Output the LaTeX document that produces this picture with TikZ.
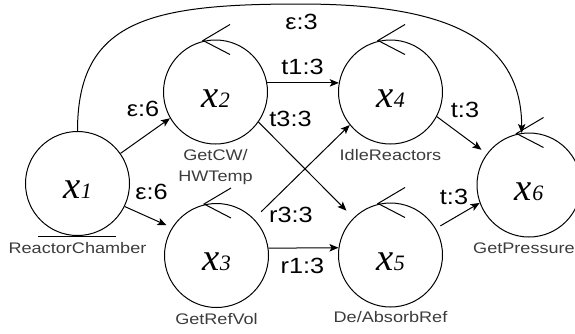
\documentclass[tikz,border=0pt]{standalone}
\usepackage{fontspec}
\usetikzlibrary{arrows.meta}
\newfontfamily\edgefont[FakeStretch=1.15]{Liberation Sans}
\newfontfamily\capfont[FakeStretch=1.18]{Liberation Sans}
\newfontfamily\varfont{Liberation Serif}
\definecolor{capgray}{RGB}{60,60,60}
\newcommand\vlab[1]{{\varfont\itshape\fontsize{29}{29}\selectfont x\kern0.5pt{\fontsize{16.5}{16.5}\selectfont #1}}}
\tikzset{
  state/.style={circle, draw, line width=0.75pt, minimum size=78pt, inner sep=0pt},
  conn/.style={line width=0.75pt, -{Stealth[length=6.8pt,width=5.6pt,inset=1.6pt]}},
  elab/.style={font=\edgefont\fontsize{16.5}{18}\selectfont, inner sep=0pt},
  captxt/.style={font=\capfont\fontsize{11.5}{13}\selectfont, text=capgray, inner sep=0pt, anchor=base},
  varname/.style={inner sep=0pt, anchor=base},
  loopmark/.style={line width=0.75pt}
}
\begin{document}
\begin{tikzpicture}[x=0.75pt,y=-0.75pt]
\useasboundingbox (0,0) rectangle (575,333);
\clip (0,0) rectangle (575,333);
% states
\node[state] (x1) at (77.5,183.5) {};
\node[state] (x2) at (215.5,92) {};
\node[state] (x3) at (216.5,255.5) {};
\node[state] (x4) at (390.5,92) {};
\node[state] (x5) at (390.5,255) {};
\node[state] (x6) at (529,185) {};
% variable names
\node[varname] (v1) at (77.5,198.5) {\vlab{1}};
\node[varname] (v2) at (215.5,107) {\vlab{2}};
\node[varname] (v3) at (216.5,270.5) {\vlab{3}};
\node[varname] (v4) at (390.5,107) {\vlab{4}};
\node[varname] (v5) at (390.5,270) {\vlab{5}};
\node[varname] (v6) at (529,200) {\vlab{6}};
% captions
\node[captxt] (c1) at (77.5,253) {ReactorChamber};
\node[captxt] (c2a) at (215.5,160) {GetCW/};
\node[captxt] (c2b) at (215.5,181) {HWTemp};
\node[captxt] (c3) at (216.5,324) {GetRefVol};
\node[captxt] (c4) at (390.5,160) {IdleReactors};
\node[captxt] (c5) at (390.5,322) {De/AbsorbRef};
\node[captxt] (c6) at (524,253) {GetPressure};
% self-loop markers
\foreach \n in {x2,x3,x4,x5,x6}{
  \draw[loopmark] ([shift={(14.5,-15)}]\n.north) -- ([shift={(-12.5,1)}]\n.north) -- ([shift={(14.5,15)}]\n.north);
}
\draw[loopmark] ([shift={(-39.5,0)}]x1.south) -- ([shift={(38.5,0)}]x1.south);
% connectors
\coordinate (apex) at (300,4);
\draw[conn] (x1.north) .. controls (77.5,20) and (150,4) .. (apex) .. controls (430,4) and (521.7,30) .. (x6.98);
\draw[conn] (x1.35) -- (x2.210);
\draw[conn, shorten >=4.5pt] (x1.-26) -- (x3.148);
\draw[conn] (x2.10) -- (x4.170);
\draw[conn, shorten >=7.5pt] (x2.-35) -- (x5);
\draw[conn, shorten <=7.5pt] (x3) -- (x4.219);
\draw[conn] (x3.8) -- (x5.172);
\draw[conn, shorten >=5pt] (x4.-28) -- (x6);
\draw[conn, shorten <=4pt] (x5) -- (x6.200);
% edge labels
\node[elab] (e13) at (301.5,21.5) {ε:3};
\node[elab] (e12) at (143,109) {ε:6};
\node[elab] (e1c) at (151.5,192) {ε:6};
\node[elab] (e24) at (302.5,66.5) {t1:3};
\node[elab] (e25) at (290.5,119) {t3:3};
\node[elab] (e34) at (291,214.5) {r3:3};
\node[elab] (e35) at (302.5,266) {r1:3};
\node[elab] (e46) at (465,110) {t:3};
\node[elab] (e56) at (454,196.5) {t:3};
\end{tikzpicture}
\end{document}
